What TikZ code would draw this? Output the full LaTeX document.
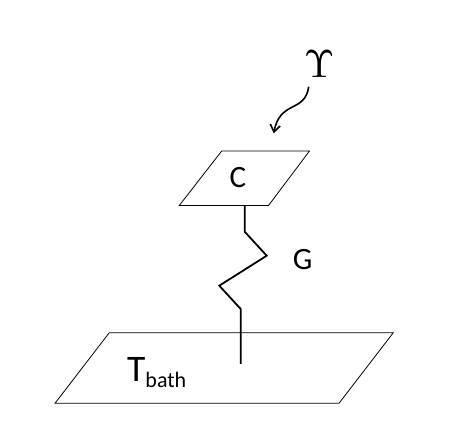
\documentclass[tikz,border=0pt]{standalone}
\usepackage{fontspec}
\setmainfont{Carlito}
\usetikzlibrary{arrows.meta}
\begin{document}
\begin{tikzpicture}[x=1pt,y=-1pt,
  plate/.style={draw, line width=0.8pt, line join=miter},
  wire/.style={draw, line width=1.8pt, line join=miter},
  lbl/.style={inner sep=0pt, anchor=base, font=\fontsize{31}{33}\selectfont},
  flow/.style={draw, line width=1.6pt, -{Straight Barb[length=7pt,width=10pt,line width=1.6pt]}}]
\useasboundingbox (0,0) rectangle (459,430);
% small plate
\coordinate (c1) at (221.7,151);
\coordinate (c2) at (309.5,151);
\coordinate (c3) at (268.5,205.5);
\coordinate (c4) at (179.3,205.5);
\draw[plate] (c1) -- (c2) -- (c3) -- (c4) -- cycle;
\node[lbl] (C) at (238,188) {C};
% bath plate
\coordinate (b1) at (109.3,332.7);
\coordinate (b2) at (393.3,332.7);
\coordinate (b3) at (339,403.3);
\coordinate (b4) at (55,403.3);
\draw[plate] (b1) -- (b2) -- (b3) -- (b4) -- cycle;
\node[lbl, font=\fontsize{37.5}{39}\selectfont, anchor=base west] (T) at (127,381.7) {T\raisebox{-6.3pt}{\fontsize{22}{24}\selectfont bath}};
% link
\coordinate (z0) at (244.7,205.5);
\coordinate (z1) at (244.7,231.7);
\coordinate (z2) at (266.7,255.7);
\coordinate (z3) at (219.3,285.7);
\coordinate (z4) at (240.7,309);
\coordinate (z5) at (240.7,364);
\draw[wire] (z0) -- (z1) -- (z2) -- (z3) -- (z4) -- (z5);
\node[lbl] (G) at (302.7,269.3) {G};
% power
\node[inner sep=0pt, scale=3.9] (U) at (319.2,63.7) {$\Upsilon$};
\coordinate (a0) at (308.7,86.7);
\coordinate (a1) at (273.7,133.3);
\draw[flow] (a0) .. controls (305,113) and (280,100) .. (a1);
\end{tikzpicture}
\end{document}
